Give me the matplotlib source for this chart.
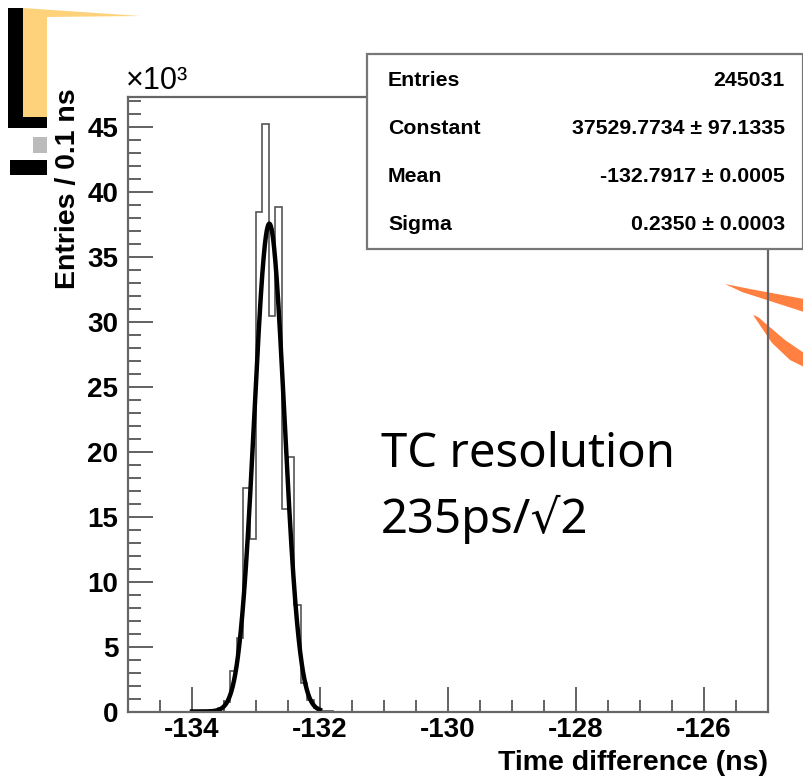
import numpy as np
import matplotlib.pyplot as plt
from matplotlib.patches import Rectangle, Polygon
from matplotlib.ticker import MultipleLocator

# histogram, 0.1 ns bins (entries per bin)
bin_lo = -134.0
bin_w = 0.1
counts = [0, 20, 50, 120, 300, 750, 3100, 5650, 17200, 13300, 38400, 45200,
          30400, 38800, 15600, 19600, 8200, 2200, 900, 300, 60, 20]

# gaussian fit result (stats box)
n_entries = 245031
const, const_err = 37529.7734, 97.1335
mean, mean_err = -132.7917, 0.0005
sigma, sigma_err = 0.2350, 0.0003
fit_range = (-134.0, -132.0)

W, H = 804, 776
fig = plt.figure(figsize=(W / 100, H / 100), dpi=100)

def px(x, y):
    return (x / W, 1 - y / H)

# slide decorations (behind everything)
def poly(pts, color, z=0):
    fig.add_artist(Polygon([px(x, y) for x, y in pts], closed=True,
                           transform=fig.transFigure, facecolor=color,
                           edgecolor='none', zorder=z))

poly([(23, 8), (140, 16), (47, 17), (47, 117), (23, 117)], '#FDD27A')
poly([(8, 8), (23, 8), (23, 117), (47, 117), (47, 128), (8, 128)], 'black')
poly([(33, 137), (47, 137), (47, 153), (33, 153)], '#BBBBBB')
poly([(10, 160), (47, 160), (47, 175), (10, 175)], 'black')
poly([(725, 284), (750, 289), (804, 299), (804, 312), (770, 301), (742, 292)], '#FF8040')
poly([(753, 315), (758, 317), (785, 340), (804, 353), (804, 367), (790, 360), (772, 343)], '#FF8040')

ax = fig.add_axes([128 / W, 1 - 711.5 / H, 640 / W, (711.5 - 96.7) / H])
ax.patch.set_visible(False)

edges = bin_lo + bin_w * np.arange(len(counts) + 1)
ax.stairs(np.array(counts) / 1e3, edges, color='#555555', lw=1.2, baseline=0)

xf = np.linspace(fit_range[0], fit_range[1], 400)
yf = const * np.exp(-0.5 * ((xf - mean) / sigma) ** 2)
ax.plot(xf, yf / 1e3, color='black', lw=3.2)

ax.set_xlim(-135, -125)
ax.set_ylim(0, 47.3)
ax.xaxis.set_major_locator(MultipleLocator(2))
ax.xaxis.set_minor_locator(MultipleLocator(0.5))
ax.yaxis.set_major_locator(MultipleLocator(5))
ax.yaxis.set_minor_locator(MultipleLocator(1))
ax.tick_params(which='both', direction='in', color='#555555', width=1.3,
               labelsize=20, top=False, right=False)
ax.tick_params(which='major', length=18)
ax.tick_params(which='minor', length=9)
ax.tick_params(axis='x', pad=4)
ax.tick_params(axis='y', pad=7)
ax.xaxis.set_major_formatter(lambda v, p: f'{v:.0f}')
ax.yaxis.set_major_formatter(lambda v, p: f'{v:.0f}')
for lab in ax.get_xticklabels() + ax.get_yticklabels():
    lab.set_fontfamily('Liberation Sans')
    lab.set_fontweight('bold')
for s in ax.spines.values():
    s.set_color('#666666')
    s.set_linewidth(1.6)

ax.set_xlabel('Time difference (ns)', fontsize=20.5, fontweight='bold',
              family='Liberation Sans', loc='right')
ax.xaxis.set_label_coords(1.0, -0.063)
ax.set_ylabel('Entries / 0.1 ns', fontsize=20.5, fontweight='bold',
              family='Liberation Sans', loc='top')
ax.yaxis.set_label_coords(-0.073, 1.013)

fig.text(*px(126, 89), '×10³', fontsize=22, family='Liberation Sans',
         va='baseline', ha='left')

# stats box
fig.add_artist(Rectangle(px(367, 249), (803 - 367) / W, (249 - 54) / H,
                         transform=fig.transFigure, facecolor='white',
                         edgecolor='#777777', lw=1.6, zorder=5))
rows = [('Entries', f'{n_entries}'),
        ('Constant', f'{const:.4f} ± {const_err:.4f}'),
        ('Mean', f'{mean:.4f} ± {mean_err:.4f}'),
        ('Sigma', f'{sigma:.4f} ± {sigma_err:.4f}')]
for i, (k, v) in enumerate(rows):
    yy = 80 + i * 48.3
    fig.text(*px(388, yy), k, fontsize=15.3, fontweight='bold',
             family='Liberation Sans', va='center', ha='left', zorder=6)
    fig.text(*px(785, yy), v, fontsize=15.3, fontweight='bold',
             family='Liberation Sans', va='center', ha='right', zorder=6)

# annotation
big = dict(fontsize=34, family=['Noto Sans', 'DejaVu Sans'], va='baseline', ha='left')
fig.text(*px(381, 467), 'TC resolution', **big)
fig.text(*px(381, 533), '235ps/√2', **big)

fig.savefig('out.png', dpi=100)
